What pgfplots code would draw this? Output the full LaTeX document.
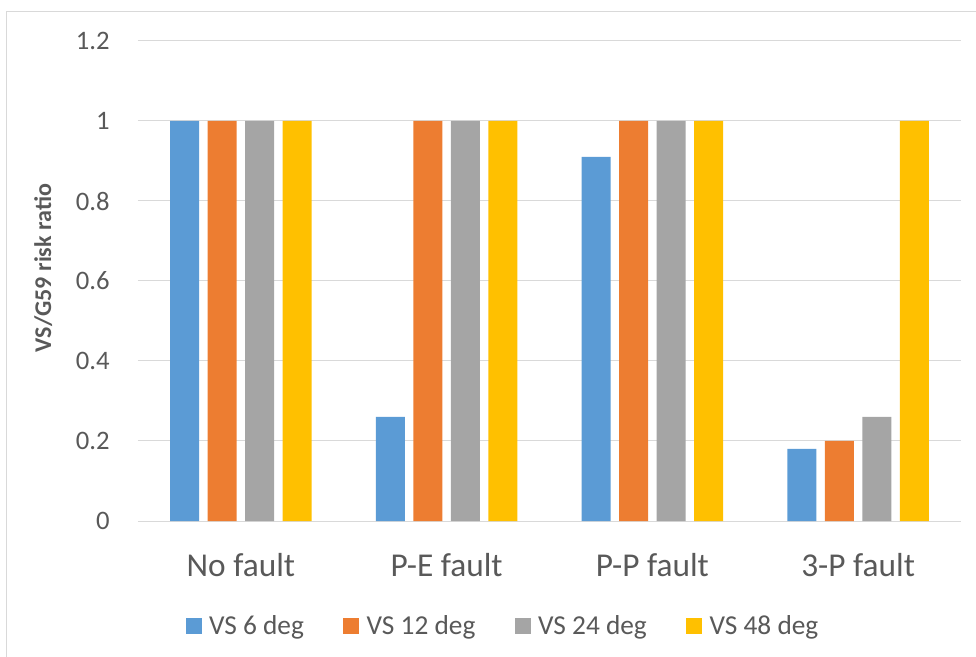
\documentclass[border=0pt]{standalone}
\usepackage{pgfplots}
\pgfplotsset{compat=1.18}
\usepackage{fontspec}
\setmainfont{Carlito}
\definecolor{cblue}{HTML}{5B9BD5}
\definecolor{corange}{HTML}{ED7D31}
\definecolor{cgray}{HTML}{A5A5A5}
\definecolor{cyellow}{HTML}{FFC000}
\definecolor{gridc}{HTML}{D9D9D9}
\definecolor{txt}{HTML}{595959}
\begin{document}
\begin{tikzpicture}
\useasboundingbox (-103.5pt,-102pt) rectangle (628.5pt,390.75pt);
\draw[gridc, line width=0.75pt] (-98.25pt,-102pt) -- (-98.25pt,381.75pt) -- (628.5pt,381.75pt);
\begin{axis}[
  at={(0,0)}, anchor=south west,
  scale only axis, width=617.25pt, height=360pt,
  ybar=6.375pt, bar width=21.75pt,
  xmin=-0.5, xmax=3.5, ymin=0, ymax=1.2,
  xtick={0,1,2,3},
  xticklabels={No fault,P-E fault,P-P fault,3-P fault},
  ytick={0,0.2,0.4,0.6,0.8,1,1.2},
  ymajorgrids, grid style={gridc, line width=0.75pt},
  axis line style={draw=none},
  major tick length=0pt,
  /pgf/number format/assume math mode=true,
  yticklabel style={font=\fontsize{20}{24}\selectfont, text=txt, anchor=east, inner sep=0pt, xshift=-21pt},
  xticklabel style={font=\fontsize{25}{30}\selectfont, text=txt, anchor=base, inner sep=0pt, yshift=-41.25pt},
  ylabel={\bfseries VS/G59 risk ratio},
  ylabel style={at={(axis description cs:-0.115,0.527)}, anchor=center, font=\fontsize{18}{21}\selectfont, text=txt},
  legend columns=4,
  legend style={draw=none, at={(axis description cs:0.4423,-0.219)}, anchor=center,
    font=\fontsize{20.5}{24}\selectfont, text=txt,
    nodes={inner sep=0pt},
    /tikz/every odd column/.append style={column sep=5.5pt},
    /tikz/every even column/.append style={column sep=29.5pt}},
  legend image code/.code={\fill[#1] (0pt,-6pt) rectangle (12pt,6pt);},
]
\addplot[fill=cblue, draw=none] coordinates {(0,1) (1,0.26) (2,0.91) (3,0.18)};
\addplot[fill=corange, draw=none] coordinates {(0,1) (1,1) (2,1) (3,0.2)};
\addplot[fill=cgray, draw=none] coordinates {(0,1) (1,1) (2,1) (3,0.26)};
\addplot[fill=cyellow, draw=none] coordinates {(0,1) (1,1) (2,1) (3,1)};
\legend{VS 6 deg, VS 12 deg, VS 24 deg, VS 48 deg}
\end{axis}
\end{tikzpicture}
\end{document}
